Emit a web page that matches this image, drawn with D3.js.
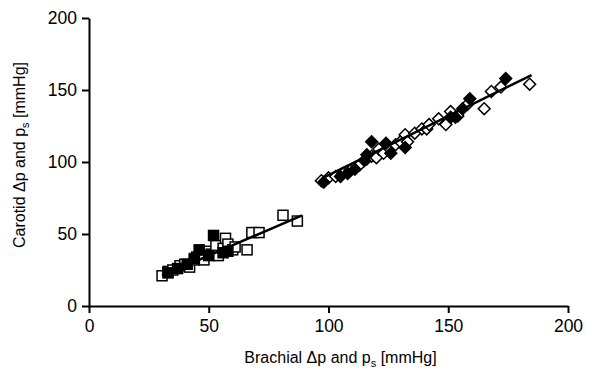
<!DOCTYPE html>
<html>
<head>
<meta charset="utf-8">
<script src="https://cdn.jsdelivr.net/npm/d3@7"></script>
<style>
  body { margin: 0; background: #fff; }
  text { font-family: "Liberation Sans", Arial, sans-serif; fill: #000; }
</style>
</head>
<body>
<script>

// Brachial (x) vs carotid (y) pressures, mmHg.
var openSquares = [
  [30.5, 21], [33, 24], [35, 25], [38, 28], [40, 29], [42, 27], [44, 32],
  [45, 34], [47, 33], [48, 32], [50, 38], [51, 36], [53, 42], [54, 35],
  [56, 40], [57, 47], [58, 43], [60, 39], [61, 41], [66, 39], [68, 51],
  [71, 51], [81, 63], [87, 59]
];

var filledSquares = [
  [33, 23], [37, 26], [41, 29], [44, 33], [46, 39], [50, 35], [52, 49],
  [56, 37], [58, 38]
];

var openDiamonds = [
  [97, 87], [100, 89], [103, 90], [106, 92], [109, 94], [113, 98],
  [116, 102], [118, 104], [120, 103], [121, 109], [123, 106], [125, 110],
  [128, 112], [130, 114], [132, 119], [133, 114], [136, 120], [139, 123],
  [141, 123], [142, 126], [146, 130], [149, 126], [151, 135], [154, 132],
  [158, 140], [165, 137], [168, 149], [172, 152], [184, 154]
];

var filledDiamonds = [
  [98, 86], [105, 90], [108, 92], [111, 95], [115, 101], [116, 105],
  [118, 114], [124, 113], [126, 106], [132, 110], [151, 131], [153, 131],
  [156, 137], [159, 144], [174, 158]
];

// Regression lines, end points.
var lowerFit = [[30.5, 21], [89, 63]];
var upperFit = [[97.7, 89], [184.8, 160.4]];

var xTicks = [0, 50, 100, 150, 200];
var yTicks = [0, 50, 100, 150, 200];

var xLabel = 'Brachial \u0394p and p';
var yLabel = 'Carotid \u0394p and p';

var width = 594, height = 379;
var margin = { top: 18, right: 26, bottom: 73, left: 89 };

var svg = d3.select('body').append('svg')
  .attr('width', width)
  .attr('height', height);

var x = d3.scaleLinear().domain([0, 200])
  .range([margin.left, width - margin.right]);
var y = d3.scaleLinear().domain([0, 200])
  .range([height - margin.bottom, margin.top]);

// Axes.
var gx = svg.append('g')
  .attr('transform', 'translate(0,' + y(0) + ')')
  .call(d3.axisBottom(x).tickValues(xTicks).tickSize(7).tickPadding(7)
    .tickSizeOuter(0));

var gy = svg.append('g')
  .attr('transform', 'translate(' + x(0) + ',0)')
  .call(d3.axisLeft(y).tickValues(yTicks).tickSize(7).tickPadding(5)
    .tickSizeOuter(0));

[gx, gy].forEach(function(g) {
  g.select('.domain').attr('stroke', '#000').attr('stroke-width', 2);
  g.selectAll('.tick line').attr('stroke', '#000').attr('stroke-width', 2);
  g.selectAll('.tick text').attr('font-size', 17.5)
    .attr('font-family', '"Liberation Sans", Arial, sans-serif');
});

// Axis titles, with subscript s.
function title(t, txt) {
  t.attr('font-size', 16).attr('text-anchor', 'middle');
  t.append('tspan').text(txt);
  t.append('tspan').attr('font-size', 11).attr('dy', 4).text('s');
  t.append('tspan').attr('dy', -4).text(' [mmHg]');
}

svg.append('text')
  .attr('x', (x(0) + x(200)) / 2 + 12)
  .attr('y', 363)
  .call(title, xLabel);

svg.append('text')
  .attr('transform', 'translate(25,155) rotate(-90)')
  .call(title, yLabel);

// Markers.
var sq = 10, dm = 8.4;

function squares(data, fill) {
  svg.append('g').selectAll('rect').data(data).enter().append('rect')
    .attr('x', function(d) { return x(d[0]) - sq / 2; })
    .attr('y', function(d) { return y(d[1]) - sq / 2; })
    .attr('width', sq).attr('height', sq)
    .attr('fill', fill).attr('stroke', '#000').attr('stroke-width', 1.5);
}

function diamonds(data, fill) {
  svg.append('g').selectAll('rect').data(data).enter().append('rect')
    .attr('x', -dm / 2).attr('y', -dm / 2).attr('width', dm).attr('height', dm)
    .attr('transform', function(d) {
      return 'translate(' + x(d[0]) + ',' + y(d[1]) + ') rotate(45)';
    })
    .attr('fill', fill).attr('stroke', '#000').attr('stroke-width', 1.5);
}

squares(openSquares, '#fff');
squares(filledSquares, '#000');
diamonds(openDiamonds, '#fff');
diamonds(filledDiamonds, '#000');

// Fit lines on top.
var line = d3.line()
  .x(function(d) { return x(d[0]); })
  .y(function(d) { return y(d[1]); });

[lowerFit, upperFit].forEach(function(f) {
  svg.append('path').attr('d', line(f))
    .attr('fill', 'none').attr('stroke', '#000').attr('stroke-width', 2.5);
});

</script>
</body>
</html>
